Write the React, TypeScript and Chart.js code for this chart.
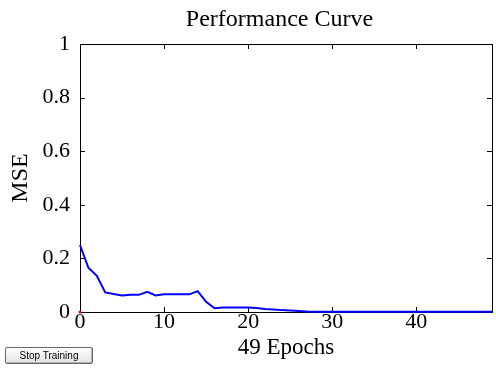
import React, { useEffect, useRef } from "react";
import { Chart, registerables } from "chart.js";

Chart.register(...registerables);

const TITLE = "Performance Curve";
const X_LABEL = "49 Epochs";
const Y_LABEL = "MSE";
const BUTTON_LABEL = "Stop Training";

const epochs = [
  0, 1, 2, 3, 4, 5, 6, 7, 8, 9,
  10, 11, 12, 13, 14, 15, 16, 17, 18, 19,
  20, 21, 22, 23, 24, 25, 26, 27, 28, 29,
  30, 31, 32, 33, 34, 35, 36, 37, 38, 39,
  40, 41, 42, 43, 44, 45, 46, 47, 48, 49,
];

const mse = [
  0.25, 0.165, 0.135, 0.073, 0.067, 0.062, 0.064, 0.064, 0.075, 0.062,
  0.066, 0.066, 0.066, 0.066, 0.078, 0.038, 0.014, 0.017, 0.017, 0.017,
  0.017, 0.015, 0.011, 0.009, 0.007, 0.006, 0.004, 0.002, 0.001, 0.001,
  0.001, 0.001, 0.001, 0.001, 0.001, 0.001, 0.001, 0.001, 0.001, 0.001,
  0.001, 0.001, 0.001, 0.001, 0.001, 0.001, 0.001, 0.001, 0.001, 0.001,
];

const goal = [0];

const xTicks = [0, 10, 20, 30, 40];
const yTicks = [0, 0.2, 0.4, 0.6, 0.8, 1];

const X_MIN = 0;
const X_MAX = 49;
const Y_MIN = 0;
const Y_MAX = 1;

const SERIF = "'Liberation Serif', 'Times New Roman', serif";

const framePlugin = {
  id: "matlabFrame",
  beforeDatasetsDraw(chart: any) {
    const { ctx, chartArea } = chart;
    const { left, right, top, bottom } = chartArea;
    const xs = chart.scales.x;
    const ys = chart.scales.y;
    ctx.save();
    ctx.strokeStyle = "#000";
    ctx.lineWidth = 1;
    ctx.strokeRect(Math.round(left) + 0.5, Math.round(top) + 0.5, Math.round(right - left), Math.round(bottom - top));
    const tl = 5;
    ctx.beginPath();
    xs.ticks.forEach((t: any) => {
      const px = Math.round(xs.getPixelForValue(t.value)) + 0.5;
      ctx.moveTo(px, bottom);
      ctx.lineTo(px, bottom - tl);
      ctx.moveTo(px, top);
      ctx.lineTo(px, top + tl);
    });
    ys.ticks.forEach((t: any) => {
      const py = Math.round(ys.getPixelForValue(t.value)) + 0.5;
      ctx.moveTo(left, py);
      ctx.lineTo(left + tl, py);
      ctx.moveTo(right, py);
      ctx.lineTo(right - tl, py);
    });
    ctx.stroke();
    ctx.restore();
  },
  afterDraw(chart: any) {
    const { ctx } = chart;
    ctx.save();
    ctx.fillStyle = "#000";
    ctx.font = `24px ${SERIF}`;
    ctx.textAlign = "center";
    ctx.textBaseline = "alphabetic";
    ctx.fillText(TITLE, 279.5, 26);
    ctx.restore();
  },
};

export default function App() {
  const canvasRef = useRef<HTMLCanvasElement | null>(null);

  useEffect(() => {
    if (!canvasRef.current) return;
    const chart = new Chart(canvasRef.current, {
      type: "line",
      data: {
        datasets: [
          {
            label: "Train",
            data: mse.map((v, i) => ({ x: epochs[i], y: v })),
            borderColor: "rgb(0,0,255)",
            backgroundColor: "rgb(0,0,255)",
            borderWidth: 2,
            pointRadius: 0,
            tension: 0,
            clip: false as any,
          },
          {
            label: "Goal",
            data: goal.map((v) => ({ x: 0, y: v })),
            borderColor: "rgb(255,0,0)",
            backgroundColor: "rgb(255,0,0)",
            borderWidth: 0,
            pointRadius: 1.5,
            showLine: false,
            clip: false as any,
          },
        ],
      },
      options: {
        responsive: false,
        animation: false,
        layout: { padding: { left: 0, right: 3, top: 44, bottom: 0 } },
        plugins: {
          legend: { display: false },
          tooltip: { enabled: false },
          title: { display: false },
        },
        scales: {
          x: {
            type: "linear",
            min: X_MIN,
            max: X_MAX,
            border: { display: false },
            grid: { display: false, drawTicks: false },
            afterBuildTicks: (s: any) => {
              s.ticks = xTicks.map((v) => ({ value: v }));
            },
            ticks: {
              color: "#000",
              padding: -3,
              maxRotation: 0,
              autoSkip: false,
              font: { family: SERIF, size: 22 },
              callback: (v: any) => String(v),
            },
            title: {
              display: true,
              text: X_LABEL,
              color: "#000",
              font: { family: SERIF, size: 23 },
              padding: { top: 13, bottom: 13 },
            },
            afterFit: (s: any) => {
              s.height = 63;
            },
          },
          y: {
            type: "linear",
            min: Y_MIN,
            max: Y_MAX,
            border: { display: false },
            grid: { display: false, drawTicks: false },
            afterBuildTicks: (s: any) => {
              s.ticks = yTicks.map((v) => ({ value: v }));
            },
            ticks: {
              color: "#000",
              padding: 10,
              autoSkip: false,
              font: { family: SERIF, size: 22 },
              callback: (v: any) => String(Math.round(Number(v) * 10) / 10),
            },
            title: {
              display: true,
              text: Y_LABEL,
              color: "#000",
              font: { family: SERIF, size: 24 },
              padding: { top: 6, bottom: 6 },
            },
            afterFit: (s: any) => {
              s.width = 80;
            },
          },
        },
      },
      plugins: [framePlugin],
    });
    return () => chart.destroy();
  }, []);

  return (
    <div style={{ position: "fixed", left: 0, top: 0, width: 496, height: 375, background: "#fff" }}>
      <canvas ref={canvasRef} width={496} height={375} style={{ display: "block" }} />
      <button
        style={{
          position: "absolute",
          left: 5,
          top: 347,
          width: 88,
          height: 17,
          padding: 0,
          margin: 0,
          fontFamily: "'Liberation Sans', Arial, sans-serif",
          fontSize: 10,
          lineHeight: "15px",
          color: "#000",
          background: "linear-gradient(#fdfdfd, #e4e4e4)",
          border: "1px solid #6a6a6a",
          borderRadius: 2,
          boxShadow: "inset -1px -1px 0 #b0b0b0",
        }}
      >
        {BUTTON_LABEL}
      </button>
    </div>
  );
}
